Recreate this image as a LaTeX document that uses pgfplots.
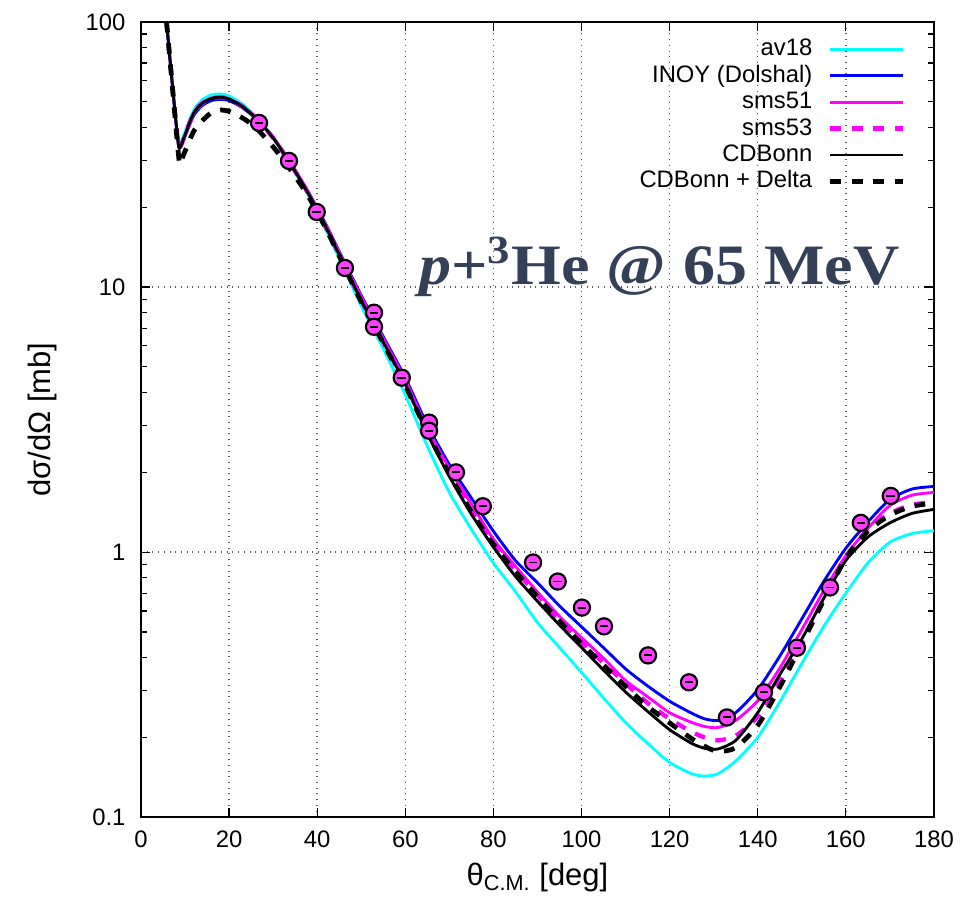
\documentclass[border=0pt]{standalone}
\usepackage{fontspec}
\setmainfont{Liberation Sans}
\newfontfamily\titlefont[FakeStretch=1.12]{Liberation Serif}
\usepackage{pgfplots}
\pgfplotsset{compat=1.18}

\definecolor{avcyan}{RGB}{0,255,255}
\definecolor{inoyblue}{RGB}{0,0,255}
\definecolor{smsmag}{RGB}{255,0,255}
\definecolor{titleblue}{RGB}{52,64,88}

\pgfplotstableread{
x y
26.8 41.6
33.6 29.9
39.9 19.2
46.3 11.8
52.9 8.0
52.9 7.08
59.2 4.55
65.4 3.08
65.4 2.87
71.5 2.0
77.6 1.49
89.0 0.914
94.6 0.775
100.1 0.618
105.1 0.525
115.1 0.408
124.4 0.323
133.0 0.238
141.4 0.296
148.9 0.436
156.4 0.736
163.4 1.29
170.2 1.63
}\expdata

\begin{document}
\begin{tikzpicture}
\begin{axis}[
  scale only axis,
  width=333pt, height=334pt,
  ymode=log,
  xmin=0, xmax=180, ymin=0.1, ymax=100,
  xtick={0,20,...,180},
  ytick={0.1,1,10,100}, yticklabels={0.1,1,10,100},
  tick align=inside,
  major tick length=4pt, minor tick length=2.5pt,
  every tick/.style={black, line width=0.5pt},
  axis line style={line width=0.9pt},
  grid=major,
  major grid style={dotted, black!65, line width=0.6pt},
  minor grid style={draw=none},
  tick label style={font=\fontsize{10}{12}\selectfont},
  /pgf/number format/assume math mode=true,
  yticklabel style={xshift=-3pt},
  xticklabel style={yshift=-2pt},
  every axis y label/.style={at={(axis description cs:-0.124,0.5)}, rotate=90, anchor=center},
  every axis x label/.style={at={(axis description cs:0.5,0)}, anchor=base, yshift=-28.5pt},
  label style={font=\fontsize{13}{15}\selectfont},
  ylabel={dσ/dΩ [mb]},
  xlabel={θ\textsubscript{C.M.} [deg]},
  legend plot pos=right,
  legend cell align=right,
  legend image code/.code={\path[draw=none, fill=none] (0pt,-1pt) rectangle (37.7pt,1pt);
    \draw[#1] (7pt,0pt) -- (37.7pt,0pt);},
  legend style={
    draw=none, fill=none,
    at={(axis description cs:1,1)}, anchor=north east,
    xshift=-8.6pt, yshift=-4pt,
    font=\fontsize{10}{12}\selectfont,
    row sep=0.5pt,
    nodes={inner sep=0.6pt, text height=7.4pt, text depth=2pt},
  },
]

% av18
\addplot[avcyan, line width=1.2pt, smooth, tension=0.4] coordinates {
(4,210) (5,140) (6,93) (7,62) (8,41.5) (8.6,34.5) (9.2,35.5) (10,38.5) (12,46.5)
(14,51) (16,53) (18,53.5) (20,52.5) (23,49) (26,44) (30,36.6) (34,28.8) (38,22.2)
(42,16.4) (46,11.8) (50,8.5) (55,5.85) (60,3.92) (65,2.51) (70,1.68) (75,1.22)
(80,0.91) (85,0.71) (90,0.543) (95,0.437) (100,0.352) (105,0.282) (110,0.228)
(115,0.19) (120,0.161) (125,0.146) (128,0.143) (131,0.146) (135,0.163) (140,0.20)
(145,0.272) (150,0.38) (155,0.525) (160,0.70) (165,0.91) (170,1.09) (175,1.175) (180,1.205)
};
\addlegendentry{av18}

% INOY
\addplot[inoyblue, line width=1.2pt, smooth, tension=0.4] coordinates {
(4,210) (5,140) (6,92) (7,61) (8,41) (8.6,34) (9.2,34.5) (10,37) (12,44.5)
(14,48.5) (16,50.5) (18,51) (20,50.5) (23,47.5) (26,43.3) (30,36.6) (34,29.3) (38,22.8)
(42,17.2) (46,12.6) (50,9.3) (55,6.5) (60,4.55) (65,3.02) (70,2.14) (75,1.60)
(80,1.20) (85,0.93) (90,0.767) (95,0.627) (100,0.523) (105,0.436) (110,0.363)
(115,0.313) (120,0.274) (125,0.247) (128,0.235) (131,0.232) (135,0.248) (140,0.303)
(145,0.405) (150,0.56) (155,0.776) (160,1.035) (165,1.30) (170,1.58) (175,1.73) (180,1.77)
};
\addlegendentry{INOY (Dolshal)}

% sms51
\addplot[smsmag, line width=1.2pt, smooth, tension=0.4] coordinates {
(4,210) (5,140) (6,92) (7,61) (8,41) (8.6,33.8) (9.2,34.8) (10,37.5) (12,45.3)
(14,49.5) (16,51.6) (18,52) (20,51.3) (23,48.2) (26,43.8) (30,36.8) (34,29.4) (38,22.8)
(42,17.1) (46,12.5) (50,9.2) (55,6.4) (60,4.45) (65,2.93) (70,2.07) (75,1.52)
(80,1.12) (85,0.885) (90,0.708) (95,0.573) (100,0.476) (105,0.398) (110,0.328)
(115,0.285) (120,0.248) (125,0.228) (128,0.22) (131,0.218) (135,0.232) (140,0.275)
(145,0.365) (150,0.51) (155,0.715) (160,0.97) (165,1.23) (170,1.50) (175,1.64) (180,1.68)
};
\addlegendentry{sms51}

% sms53
\addplot[smsmag, line width=1.8pt, dash pattern=on 4.5pt off 4.5pt, smooth, tension=0.4] coordinates {
(4,210) (5,140) (6,92) (7,61) (8,41) (8.6,33.5) (9.2,34.5) (10,37.5) (12,45.5)
(14,49.5) (16,51.5) (18,52) (20,51.2) (23,48) (26,43.5) (30,36.5) (34,29) (38,22.5)
(42,16.8) (46,12.2) (50,8.9) (55,6.2) (60,4.3) (65,2.85) (70,1.99) (75,1.44)
(80,1.08) (85,0.855) (90,0.69) (95,0.555) (100,0.458) (105,0.382) (110,0.32)
(115,0.27) (120,0.235) (125,0.21) (128,0.2) (131,0.195) (135,0.203) (140,0.24)
(145,0.325) (150,0.46) (155,0.665) (160,0.96) (165,1.22) (170,1.40) (175,1.51) (180,1.54)
};
\addlegendentry{sms53}

% CDBonn
\addplot[black, line width=1.2pt, smooth, tension=0.4] coordinates {
(4,210) (5,140) (6,92) (7,61) (8,41) (8.6,33.5) (9.2,34.5) (10,37.5) (12,45.5)
(14,49.5) (16,51.5) (18,52) (20,51.2) (23,48) (26,43.5) (30,36.5) (34,29) (38,22.5)
(42,16.8) (46,12.2) (50,8.9) (55,6.2) (60,4.3) (65,2.8) (70,1.93) (75,1.39)
(80,1.045) (85,0.81) (90,0.653) (95,0.531) (100,0.437) (105,0.359) (110,0.297)
(115,0.251) (120,0.214) (125,0.19) (128,0.182) (131,0.181) (135,0.195) (140,0.248)
(145,0.345) (150,0.47) (155,0.67) (160,0.93) (165,1.14) (170,1.29) (175,1.40) (180,1.45)
};
\addlegendentry{CDBonn}

% CDBonn + Delta
\addplot[black, line width=2pt, dash pattern=on 4.5pt off 4.5pt, smooth, tension=0.4] coordinates {
(4,210) (5,140) (6,92) (7,60) (8,39) (8.4,33) (8.8,29) (9.3,30.5) (10,32.5) (12,38.8)
(14,42.5) (16,45.5) (18,46.5) (20,46) (23,43.5) (26,40) (30,33.8) (34,27.6) (38,22)
(42,16.6) (46,12.1) (50,8.8) (55,6.15) (60,4.25) (65,2.83) (70,1.97) (75,1.42)
(80,1.07) (85,0.845) (90,0.68) (95,0.55) (100,0.452) (105,0.375) (110,0.312)
(115,0.262) (120,0.227) (125,0.198) (128,0.185) (131,0.177) (135,0.183) (140,0.222)
(145,0.31) (150,0.45) (155,0.66) (160,0.95) (165,1.20) (170,1.38) (175,1.49) (180,1.53)
};
\addlegendentry{CDBonn + Delta}

% data
\addplot[only marks, mark=*, mark size=3.4pt, forget plot,
  mark options={fill=smsmag!75, draw=black, line width=0.9pt}] table[x=x, y=y] {\expdata};
\addplot[only marks, mark=-, mark size=1.8pt, forget plot,
  mark options={black, line width=0.8pt}] table[x=x, y=y] {\expdata};

\node[anchor=base east, text=titleblue, inner sep=0pt,
  font=\titlefont\bfseries\fontsize{24}{28}\selectfont]
  at (axis cs:172.3,10.2) {\spaceskip=0.3em\textit{p}+\textsuperscript{3}He @ 65 MeV};
\end{axis}
\pgfresetboundingbox
\path[use as bounding box]
  ([xshift=-59.2pt,yshift=-33.6pt]current axis.south west)
  rectangle ([xshift=12.2pt,yshift=9.2pt]current axis.north east);
\end{tikzpicture}
\end{document}
